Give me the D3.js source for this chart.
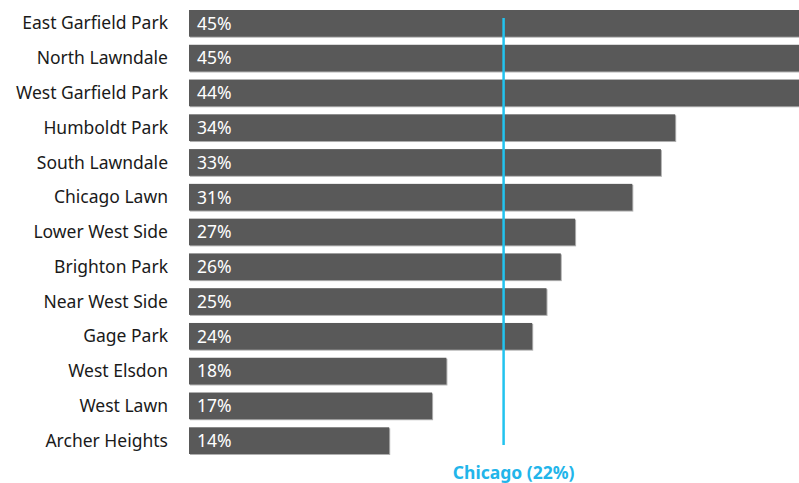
<!DOCTYPE html>
<html>
<head>
<meta charset="utf-8">
<script src="https://cdn.jsdelivr.net/npm/d3@7"></script>
<style>
  body { margin: 0; background: #fff; }
  svg { display: block; }
</style>
</head>
<body>
<div id="chart"></div>
<script>
const areas = ['East Garfield Park', 'North Lawndale', 'West Garfield Park', 'Humboldt Park',
  'South Lawndale', 'Chicago Lawn', 'Lower West Side', 'Brighton Park', 'Near West Side',
  'Gage Park', 'West Elsdon', 'West Lawn', 'Archer Heights'];
const values = [45, 45, 44, 34, 33, 31, 27, 26, 25, 24, 18, 17, 14];
const cityName = 'Chicago';
const cityValue = 22;

const width = 799;
const height = 483;

const svg = d3.select('#chart').append('svg')
  .attr('width', width)
  .attr('height', height);

const x = d3.scaleLinear().domain([0, 10]).range([189, 332]);
const y = d3.scaleBand().domain(areas).range([10, 454]).paddingInner(0.232).paddingOuter(0);

const font = 'Noto Sans, sans-serif';

// light edge under/right of each bar
svg.selectAll('.shadow')
  .data(areas)
  .enter().append('rect')
  .attr('x', x(0) + 1)
  .attr('y', d => y(d) + 1)
  .attr('width', (d, i) => x(values[i]) - x(0))
  .attr('height', y.bandwidth())
  .attr('fill', '#b0b0b0');

svg.selectAll('.bar')
  .data(areas)
  .enter().append('rect')
  .attr('class', 'bar')
  .attr('x', x(0))
  .attr('y', d => y(d))
  .attr('width', (d, i) => x(values[i]) - x(0))
  .attr('height', y.bandwidth())
  .attr('fill', '#595959');

svg.selectAll('.name')
  .data(areas)
  .enter().append('text')
  .attr('x', 168)
  .attr('y', d => y(d) + y.bandwidth() / 2)
  .attr('dy', '0.35em')
  .attr('text-anchor', 'end')
  .style('font-family', font)
  .style('font-size', '17.5px')
  .attr('fill', '#1a1a1a')
  .text(d => d);

svg.selectAll('.val')
  .data(areas)
  .enter().append('text')
  .attr('x', x(0) + 8)
  .attr('y', d => y(d) + y.bandwidth() / 2)
  .attr('dy', '0.36em')
  .style('font-family', font)
  .style('font-size', '17.5px')
  .attr('fill', '#ffffff')
  .text((d, i) => values[i] + '%');

svg.append('line')
  .attr('x1', x(cityValue))
  .attr('x2', x(cityValue))
  .attr('y1', 18)
  .attr('y2', 445)
  .attr('stroke', '#22c3ef')
  .attr('stroke-width', 2.5);

svg.append('text')
  .attr('x', x(cityValue) + 10)
  .attr('y', 479)
  .attr('text-anchor', 'middle')
  .style('font-family', font)
  .style('font-size', '17.5px')
  .style('font-weight', 'bold')
  .attr('fill', '#22b5ea')
  .text(cityName + ' (' + cityValue + '%)');
</script>
</body>
</html>
